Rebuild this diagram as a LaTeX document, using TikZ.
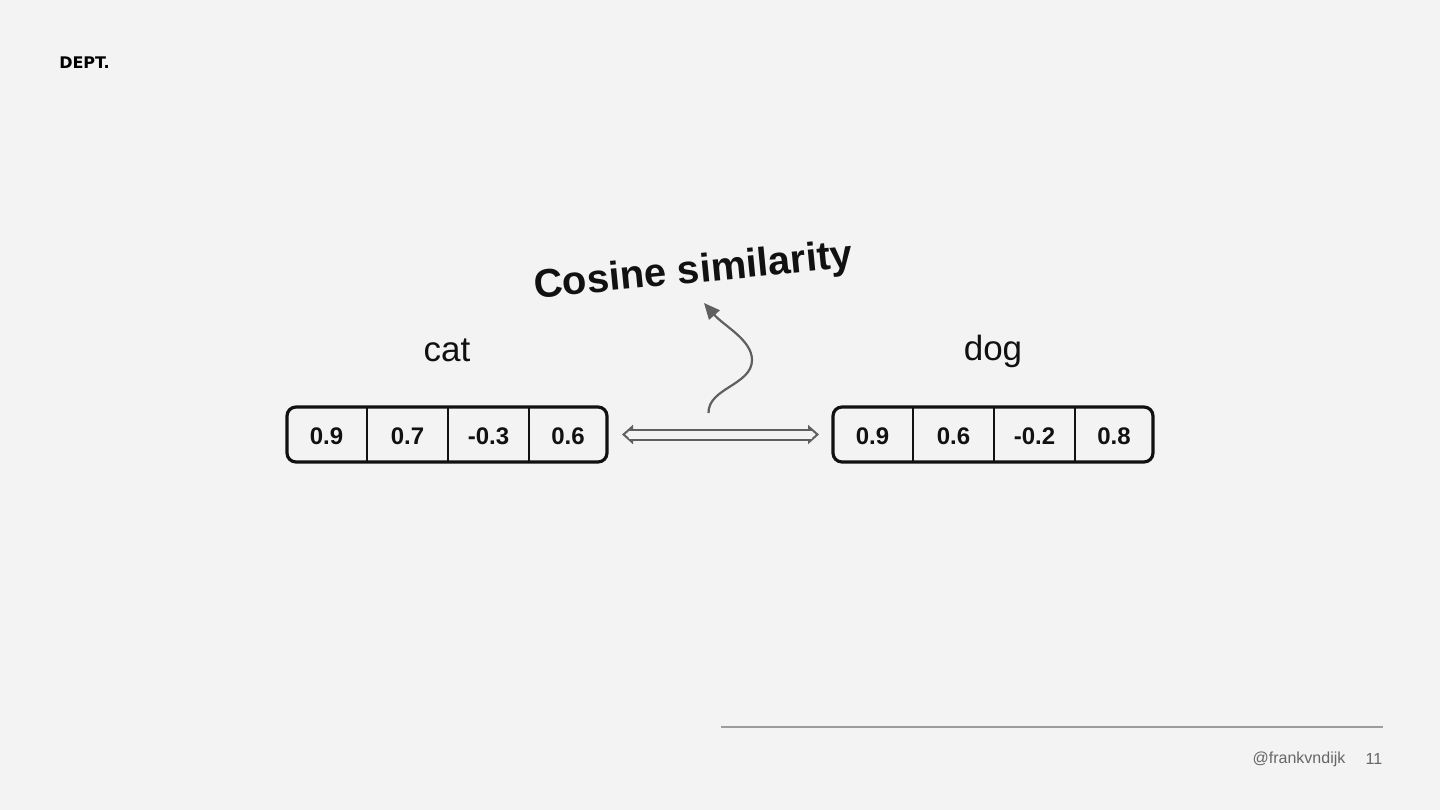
\documentclass[tikz,border=0pt]{standalone}
\usepackage{fontspec}
\setmainfont{Liberation Sans}
\newfontfamily\logofont{DejaVu Sans}
\usetikzlibrary{positioning, arrows.meta}
\definecolor{slidebg}{HTML}{F3F3F3}
\definecolor{inkdark}{HTML}{111111}
\definecolor{arrowgrey}{HTML}{5F5F5F}
\definecolor{rulegrey}{HTML}{9C9C9C}
\definecolor{footgrey}{HTML}{666666}

\begin{document}
\begin{tikzpicture}[
        x=1pt, y=-1pt,
        vecbox/.style={draw=inkdark, rectangle, rounded corners=9pt, line width=3.2pt, minimum width=320pt, minimum height=55pt, inner sep=0pt, outer sep=0pt},
        cell/.style={rectangle, minimum width=81pt, minimum height=55pt, inner sep=0pt, outer sep=0pt, text height=21pt, text=inkdark, font=\fontsize{24}{24}\selectfont\bfseries},
        divider/.style={draw=inkdark, line width=2.2pt},
        word/.style={text=inkdark, font=\fontsize{35}{35}\selectfont},
        foot/.style={text=footgrey, font=\fontsize{16}{16}\selectfont, inner sep=0pt},
        hollowtips/.style={draw=arrowgrey, line width=2pt, shorten <=15pt, shorten >=14pt, {Triangle[open, fill=slidebg, length=11pt, width=19pt, line width=2pt]}-{Triangle[open, fill=slidebg, length=11pt, width=19pt, line width=2pt]}},
        shaft/.style={draw=arrowgrey, line width=2pt, double=slidebg, double distance=8pt, shorten <=22pt, shorten >=21pt},
        curvearrow/.style={draw=arrowgrey, line width=2.2pt, -{Triangle[length=16pt, width=14pt]}}
    ]
        \useasboundingbox[fill=slidebg] (0,0) rectangle (1440,810);

        % Logo and title
        \node[text=black, inner sep=0pt, font=\logofont\fontsize{16}{16}\selectfont\bfseries] (logo) at (84.5,63) {DEPT.};
        \node[rotate=5.5, inkdark, font=\fontsize{40}{40}\selectfont\bfseries] (title) at (693.5,272.5) {Cosine similarity};

        % Vectors
        \node[word] (catword) at (447,350.5) {cat};
        \node[word] (dogword) at (993,351.5) {dog};
        \node[vecbox] (catvec) at (447,434.5) {};
        \node[vecbox] (dogvec) at (993,434.5) {};

        \node[cell] (cata) at (326.5,434.5) {0.9};
        \node[cell, right=0pt of cata] (catb) {0.7};
        \node[cell, right=0pt of catb] (catc) {-0.3};
        \node[cell, minimum width=78pt, right=0pt of catc] (catd) {0.6};

        \node[cell] (doga) at (872.5,434.5) {0.9};
        \node[cell, right=0pt of doga] (dogb) {0.6};
        \node[cell, right=0pt of dogb] (dogc) {-0.2};
        \node[cell, minimum width=78pt, right=0pt of dogc] (dogd) {0.8};

        % Dividers
        \foreach \cellname in {cata, catb, catc, doga, dogb, dogc}
            \draw[divider] (\cellname.north east) -- (\cellname.south east);

        % Arrows
        \coordinate (curvestart) at (708.5,413);
        \coordinate (curveend) at (704,303);
        \draw[hollowtips] (catvec.east) -- (dogvec.west);
        \draw[shaft] (catvec.east) -- (dogvec.west);
        \draw[curvearrow] (curvestart) .. controls (708,388) and (752,385) .. (752,360) .. controls (752,340) and (724,326) .. (curveend);

        % Footer
        \coordinate (rulestart) at (721,727);
        \coordinate (ruleend) at (1383,727);
        \draw[draw=rulegrey, line width=1.6pt] (rulestart) -- (ruleend);
        \node[foot] (handle) at (1299,759.5) {@frankvndijk};
        \node[foot] (pagenum) at (1374,758.5) {11};
    \end{tikzpicture}
\end{document}
